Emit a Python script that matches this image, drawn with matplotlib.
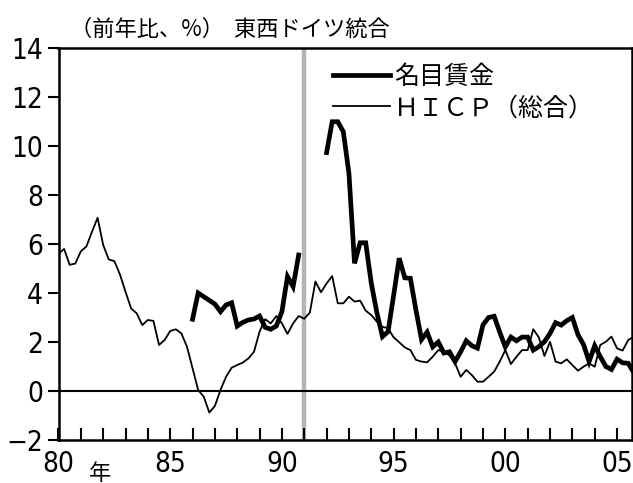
import numpy as np
import matplotlib
matplotlib.use("Agg")
import matplotlib.pyplot as plt
from matplotlib import font_manager as fm
from matplotlib.lines import Line2D

# ---------------- data ----------------
hicp_start = 1980.0
hicp = [5.6, 5.8, 5.15, 5.2, 5.7, 5.9, 6.5, 7.07,
        5.96, 5.37, 5.3, 4.76, 4.05, 3.37, 3.17, 2.69,
        2.9, 2.86, 1.88, 2.08, 2.45, 2.52, 2.35, 1.81,
        0.93, 0.04, -0.23, -0.88, -0.61, 0.04, 0.58, 0.95,
        1.06, 1.16, 1.33, 1.6, 2.42, 2.93, 2.76, 3.06,
        2.76, 2.33, 2.76, 3.06, 2.95, 3.2, 4.47, 4.03,
        4.39, 4.69, 3.58, 3.58, 3.85, 3.65, 3.69, 3.28,
        3.1, 2.83, 2.62, 2.56, 2.19, 1.99, 1.78, 1.67,
        1.27, 1.2, 1.17, 1.4, 1.67, 1.6, 1.45, 1.13,
        0.58, 0.86, 0.65, 0.38, 0.38, 0.58, 0.79, 1.2,
        1.67, 1.1, 1.4, 1.67, 1.67, 2.52, 2.19, 1.43,
        2.01, 1.2, 1.13, 1.29, 1.06, 0.83, 0.99, 1.13,
        0.99, 1.88, 2.01, 2.22, 1.74, 1.65, 2.08, 2.22]

wage_west_start = 1986.0
wage_west = [2.93, 4.0, 3.85, 3.7, 3.55, 3.24, 3.51, 3.6,
             2.65, 2.8, 2.9, 2.94, 3.06, 2.6, 2.52, 2.65,
             3.24, 4.67, 4.26, 5.55]

wage_all_start = 1992.0
wage_all = [9.73, 10.99, 10.99, 10.58, 8.88, 5.21, 6.05, 6.05,
            4.4, 3.2, 2.22, 2.42, 3.9, 5.42, 4.62, 4.6,
            3.3, 2.1, 2.4, 1.8, 2.0, 1.55, 1.6, 1.2,
            1.6, 2.05, 1.85, 1.75, 2.7, 3.0, 3.05, 2.4,
            1.8, 2.2, 2.05, 2.2, 2.2, 1.67, 1.81, 2.01,
            2.35, 2.79, 2.69, 2.87, 3.0, 2.3, 1.9, 1.2,
            1.85, 1.4, 1.0, 0.88, 1.3, 1.15, 1.13, 0.75]

unification = 1991.0
x_tick_years = [1980, 1985, 1990, 1995, 2000, 2005]
x_tick_labels = ['80', '85', '90', '95', '00', '05']
y_ticks = [-2, 0, 2, 4, 6, 8, 10, 12, 14]
y_tick_labels = ['−2', '0', '2', '4', '6', '8', '10', '12', '14']
legend_labels = ['名目賃金', 'ＨＩＣＰ（総合）']

# ---------------- fonts ----------------
num_prop = None
for f in fm.fontManager.ttflist:
    if f.name in ('Liberation Sans Narrow',) or (
            f.name in ('DejaVu Sans', 'Liberation Sans', 'Open Sans', 'Noto Sans')
            and str(f.stretch) in ('condensed', 'semi-condensed', '75', '87')
            and f.style == 'normal' and f.weight in (400, 'normal', 'regular')):
        num_prop = fm.FontProperties(fname=f.fname, size=20)
        break
if num_prop is None:
    num_prop = fm.FontProperties(family='Liberation Sans', size=19)

cjk = ['Noto Sans CJK JP', 'DejaVu Sans']

def qdates(start, n):
    return start + 0.25 * np.arange(n)

fig = plt.figure(figsize=(6.33, 4.83), dpi=100)
ax = fig.add_axes([58.5 / 633, 43 / 483, (632 - 58.5) / 633, 392 / 483])

ax.axvline(unification, color='#b4b4b4', lw=3.2, zorder=1)
ax.axhline(0, color='black', lw=1.5, zorder=2)

ax.plot(qdates(hicp_start, len(hicp)), hicp, color='black', lw=1.3, zorder=3)
ax.plot(qdates(wage_west_start, len(wage_west)), wage_west, color='black', lw=3.4,
        solid_joinstyle='miter', zorder=4)
ax.plot(qdates(wage_all_start, len(wage_all)), wage_all, color='black', lw=3.4,
        solid_joinstyle='miter', zorder=4)

ax.set_xlim(1980, 2005.67)
ax.set_ylim(-2, 14)

ax.set_xticks(x_tick_years)
ax.set_xticklabels(x_tick_labels, fontproperties=num_prop)
ax.set_xticks(np.arange(1980, 2006), minor=True)
ax.tick_params(axis='x', which='both', direction='in', length=9, width=1.5, pad=7)
ax.set_yticks(y_ticks)
ax.set_yticklabels(y_tick_labels, fontproperties=num_prop)
ax.tick_params(axis='y', direction='out', length=8, width=1.5, pad=3)

for s in ax.spines.values():
    s.set_linewidth(1.8)

handles = [Line2D([], [], color='black', lw=3.4), Line2D([], [], color='black', lw=1.3)]
leg = ax.legend(handles, legend_labels, loc='upper left', bbox_to_anchor=(0.478, 0.96),
                frameon=False, handlelength=2.3, handletextpad=0.15, labelspacing=0.22,
                borderaxespad=0, borderpad=0, prop={'family': cjk, 'size': 18})

fig.text(70 / 633, 1 - 29 / 483, '（前年比、%）  東西ドイツ統合', fontfamily=cjk, fontsize=16,
         va='center', ha='left')
fig.text(100 / 633, 1 - 473 / 483, '年', fontfamily=cjk, fontsize=16, va='center', ha='center')

fig.savefig('out.png', dpi=100)
